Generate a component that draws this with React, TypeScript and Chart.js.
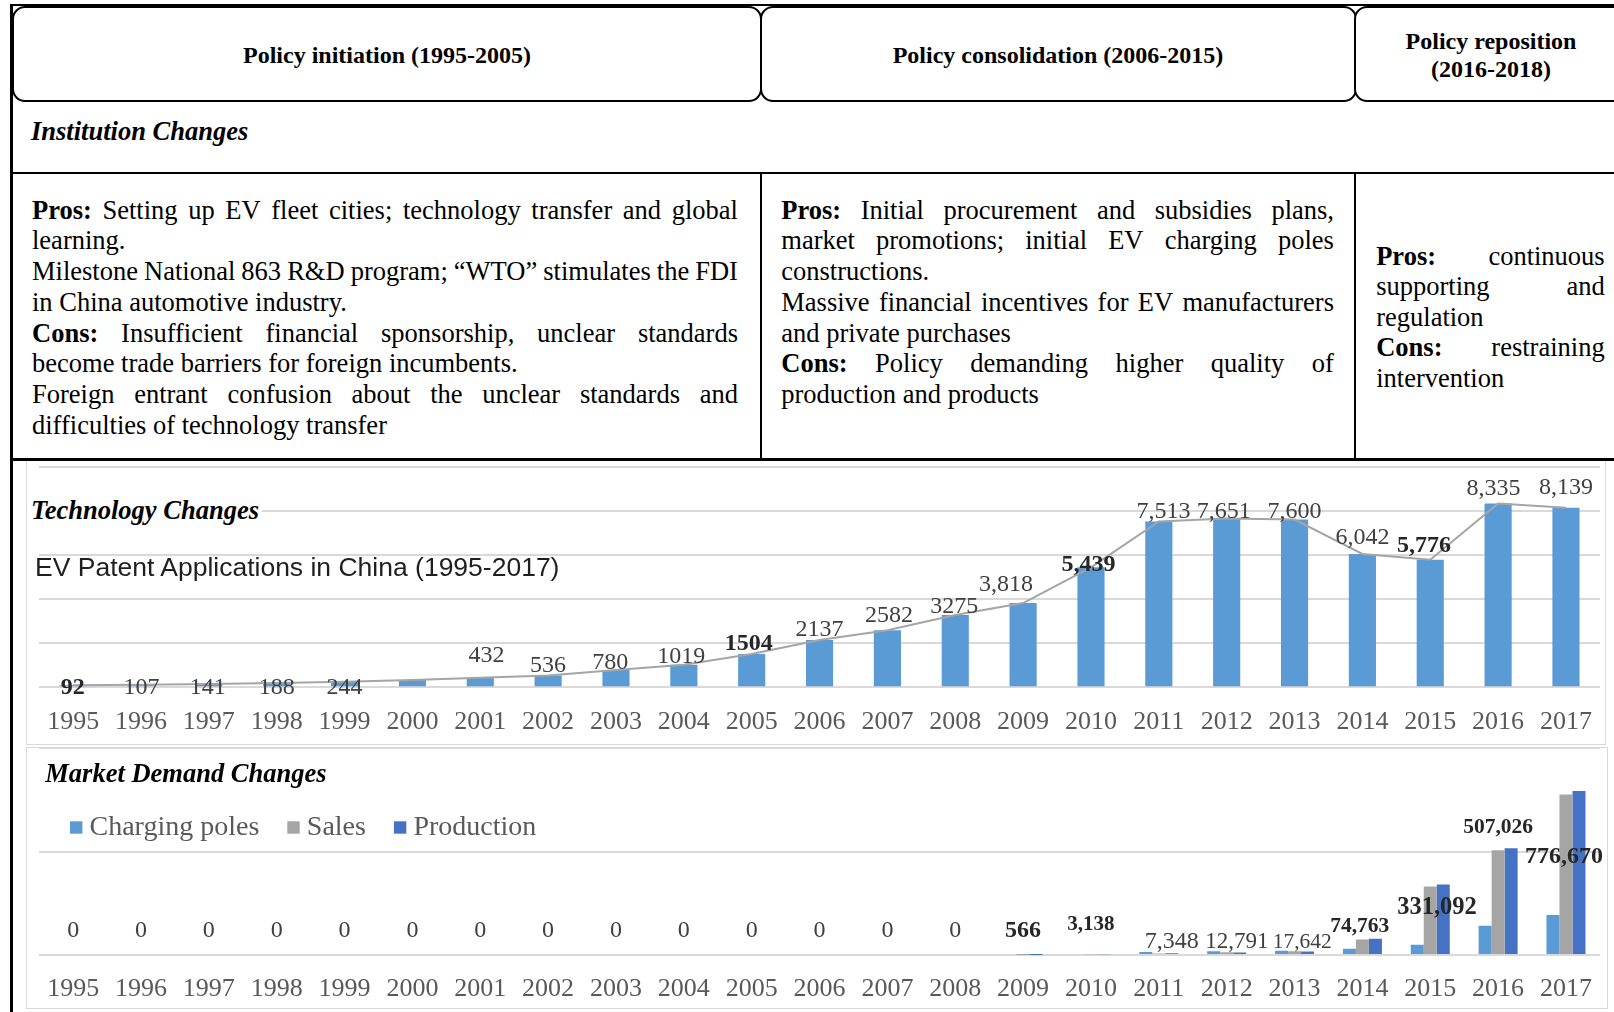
import React, { useEffect, useRef } from 'react';
import { Chart, registerables } from 'chart.js';

Chart.register(...registerables);

const SERIF = "'Liberation Serif', 'Times New Roman', Times, serif";
const SANS = "'Liberation Sans', Arial, Helvetica, sans-serif";

// ---------- data ----------
const years = ['1995', '1996', '1997', '1998', '1999', '2000', '2001', '2002', '2003', '2004', '2005', '2006',
  '2007', '2008', '2009', '2010', '2011', '2012', '2013', '2014', '2015', '2016', '2017'];

const patentApplications = [92, 107, 141, 188, 244, 330, 432, 536, 780, 1019, 1504, 2137,
  2582, 3275, 3818, 5439, 7513, 7651, 7600, 6042, 5776, 8335, 8139];

const patentLabels = ['92', '107', '141', '188', '244', '', '432', '536', '780', '1019', '1504', '2137',
  '2582', '3275', '3,818', '5,439', '7,513', '7,651', '7,600', '6,042', '5,776', '8,335', '8,139'];

const chargingPoles = [0, 0, 0, 0, 0, 0, 0, 0, 0, 0, 0, 0, 0, 0, 0, 5000, 14000, 18000, 21000, 30000, 49000, 141000, 194000];
const sales = [0, 0, 0, 0, 0, 0, 0, 0, 0, 0, 0, 0, 0, 0, 566, 3138, 7348, 12791, 17642, 74763, 331092, 507026, 776670];
const production = [0, 0, 0, 0, 0, 0, 0, 0, 0, 0, 0, 0, 0, 0, 600, 3200, 8368, 12552, 17533, 78499, 340471, 517000, 794000];

const periodTitles = ['Policy initiation (1995-2005)', 'Policy consolidation (2006-2015)', 'Policy reposition\n(2016-2018)'];

const initiationLines = [
  { text: 'Pros: Setting up EV fleet cities; technology transfer and global', justify: true },
  { text: 'learning.', justify: false },
  { text: 'Milestone National 863 R&D program; \u201CWTO\u201D stimulates the FDI', justify: true },
  { text: 'in China automotive industry.', justify: false },
  { text: 'Cons: Insufficient financial sponsorship, unclear standards', justify: true },
  { text: 'become trade barriers for foreign incumbents.', justify: false },
  { text: 'Foreign entrant confusion about the unclear standards and', justify: true },
  { text: 'difficulties of technology transfer', justify: false },
];
const consolidationLines = [
  { text: 'Pros: Initial procurement and subsidies plans,', justify: true },
  { text: 'market promotions; initial EV charging poles', justify: true },
  { text: 'constructions.', justify: false },
  { text: 'Massive financial incentives for EV manufacturers', justify: true },
  { text: 'and private purchases', justify: false },
  { text: 'Cons: Policy demanding higher quality of', justify: true },
  { text: 'production and products', justify: false },
];
const repositionLines = [
  { text: 'Pros: continuous', justify: true },
  { text: 'supporting and', justify: true },
  { text: 'regulation', justify: false },
  { text: 'Cons: restraining', justify: true },
  { text: 'intervention', justify: false },
];

// ---------- label styling (offsets in px: [dx, rise above bar top]) ----------
const techLabelNudge = [[-0.5, -2.4], [0.5, -3], [-1, -3.5], [0, -4.5], [0, -5.8], [0, 0], [6.2, 22], [0, 10],
  [-5.7, 7], [-2.6, 8], [-3, 10.5], [0, 10], [1.5, 14.6], [-1, 8.6], [-17, 18], [-2.6, 2], [4.6, 10], [-3, 7],
  [0, 8], [0, 16.5], [-6.2, 14], [-4.6, 15], [0, 19.6]];
const techBold = [0, 10, 15, 20];

// market labels: [dx, rise above axis, fontSize, bold]
const marketLabelStyle = years.map((_, i) => (i < 14 ? [0, 24.5, 24, 0] : [0, 0, 24, 0]));
marketLabelStyle[14] = [0, 24.5, 24, 1];
marketLabelStyle[15] = [0, 30.7, 21, 1];
marketLabelStyle[16] = [12.9, 13.2, 24, 0];
marketLabelStyle[17] = [10.3, 13.2, 23, 0];
marketLabelStyle[18] = [7.7, 12.2, 21.5, 0];
marketLabelStyle[19] = [-2.6, 28.7, 21.5, 1];
marketLabelStyle[20] = [6.7, 47.2, 24.5, 1];
marketLabelStyle[21] = [0, 127.5, 21.5, 1];
marketLabelStyle[22] = [-2, 98.7, 24, 1];

const GRID = '#D9D9D9';

const techLabelPlugin = {
  id: 'techLabels',
  afterDatasetsDraw(chart: any) {
    const meta = chart.getDatasetMeta(1);
    const ctx = chart.ctx;
    ctx.save();
    ctx.textAlign = 'center';
    ctx.textBaseline = 'middle';
    meta.data.forEach((bar: any, i: number) => {
      const txt = patentLabels[i];
      if (!txt) return;
      const [dx, rise] = techLabelNudge[i];
      const bold = techBold.includes(i);
      ctx.font = `${bold ? 'bold ' : ''}24px ${SERIF}`;
      ctx.fillStyle = bold ? '#262626' : '#404040';
      ctx.fillText(txt, bar.x + dx, bar.y - rise);
    });
    ctx.restore();
  },
};

const marketPlugin = {
  id: 'marketExtras',
  afterDatasetsDraw(chart: any) {
    const ctx = chart.ctx;
    const xs = chart.scales.x;
    const axisY = chart.scales.y.getPixelForValue(0);
    ctx.save();
    ctx.textAlign = 'center';
    ctx.textBaseline = 'middle';
    sales.forEach((v, i) => {
      const [dx, rise, size, bold] = marketLabelStyle[i];
      ctx.font = `${bold ? 'bold ' : ''}${size}px ${SERIF}`;
      ctx.fillStyle = bold ? '#262626' : '#404040';
      ctx.fillText(v.toLocaleString('en-US'), xs.getPixelForValue(i) + dx, axisY - rise);
    });
    // legend
    let x = 44;
    const cy = 81.5;
    ctx.textAlign = 'left';
    ctx.font = `28px ${SERIF}`;
    chart.data.datasets.forEach((ds: any) => {
      ctx.fillStyle = ds.backgroundColor;
      ctx.fillRect(x, cy - 6.2, 12.4, 12.4);
      x += 19.5;
      ctx.fillStyle = '#595959';
      ctx.fillText(ds.label, x, cy);
      x += ctx.measureText(ds.label).width + 28;
    });
    ctx.restore();
  },
};

function TextLine({ text, justify, left, width, top, lh, size }: any) {
  const words = text.split(' ');
  const isBold = (w: string) => w === 'Pros:' || w === 'Cons:';
  const base: any = { position: 'absolute', left, top, width, height: lh, lineHeight: lh + 'px', fontSize: size, whiteSpace: 'pre' };
  if (justify) {
    return (
      <div style={{ ...base, display: 'flex', justifyContent: 'space-between', columnGap: 3 }}>
        {words.map((w: string, k: number) => <span key={k} style={{ fontWeight: isBold(w) ? 700 : 400 }}>{w}</span>)}
      </div>
    );
  }
  return (
    <div style={base}>
      {words.map((w: string, k: number) => <span key={k} style={{ fontWeight: isBold(w) ? 700 : 400 }}>{(k ? ' ' : '') + w}</span>)}
    </div>
  );
}

function Rect({ l, t, w, h, c = '#000' }: any) {
  return <div style={{ position: 'absolute', left: l, top: t, width: w, height: h, background: c }} />;
}

const fitX = (height: number) => (s: any) => {
  s.height = height;
  s.paddingLeft = 0;
  s.paddingRight = 0;
};

export default function App() {
  const techRef = useRef<HTMLCanvasElement>(null);
  const marketRef = useRef<HTMLCanvasElement>(null);

  useEffect(() => {
    const tech = new Chart(techRef.current as HTMLCanvasElement, {
      type: 'bar',
      data: {
        labels: years,
        datasets: [
          { type: 'line', label: 'Trend', data: patentApplications, borderColor: '#A5A5A5', borderWidth: 2, pointRadius: 0, tension: 0, order: 0 } as any,
          { type: 'bar', label: 'EV patent applications', data: patentApplications, backgroundColor: '#5B9BD5', barPercentage: 0.4, categoryPercentage: 1, order: 1 },
        ],
      },
      options: {
        responsive: false,
        animation: false,
        layout: { padding: { left: 13.2, right: 8.1, top: 5.7, bottom: 0 } },
        plugins: { legend: { display: false }, tooltip: { enabled: false } },
        scales: {
          x: {
            offset: true,
            grid: { display: false, drawTicks: false },
            border: { display: false },
            ticks: { color: '#595959', font: { family: SERIF, size: 26 }, padding: 19.7, autoSkip: false, maxRotation: 0 },
            afterFit: fitX(58.8),
          },
          y: {
            min: 0, max: 10000,
            ticks: { stepSize: 2000, display: false },
            grid: { color: GRID, lineWidth: 2, drawTicks: false },
            border: { display: false },
            afterFit: (s: any) => { s.width = 0; },
          },
        },
      } as any,
      plugins: [techLabelPlugin],
    });

    const market = new Chart(marketRef.current as HTMLCanvasElement, {
      type: 'bar',
      data: {
        labels: years,
        datasets: [
          { label: 'Charging poles', data: chargingPoles, backgroundColor: '#5B9BD5', barPercentage: 1, categoryPercentage: 0.575 },
          { label: 'Sales', data: sales, backgroundColor: '#A5A5A5', barPercentage: 1, categoryPercentage: 0.575 },
          { label: 'Production', data: production, backgroundColor: '#4472C4', barPercentage: 1, categoryPercentage: 0.575 },
        ],
      },
      options: {
        responsive: false,
        animation: false,
        layout: { padding: { left: 13.2, right: 8.1, top: 2.3, bottom: 0 } },
        plugins: { legend: { display: false }, tooltip: { enabled: false } },
        scales: {
          x: {
            offset: true,
            grid: { display: false, drawTicks: false },
            border: { display: false },
            ticks: { color: '#595959', font: { family: SERIF, size: 26 }, padding: 18.4, autoSkip: false, maxRotation: 0 },
            afterFit: fitX(57),
          },
          y: {
            min: 0, max: 1000000,
            ticks: { stepSize: 500000, display: false },
            grid: { color: GRID, lineWidth: 2, drawTicks: false },
            border: { display: false },
            afterFit: (s: any) => { s.width = 0; },
          },
        },
      } as any,
      plugins: [marketPlugin],
    });

    return () => { tech.destroy(); market.destroy(); };
  }, []);

  const LH = 30.75;
  const size = 26.5;
  const boxBase: any = {
    position: 'absolute', top: 5.5, height: 96.5, border: '2.5px solid #000', borderRadius: 13, boxSizing: 'border-box',
    display: 'flex', alignItems: 'center', justifyContent: 'center', textAlign: 'center', fontWeight: 700,
    fontSize: 24, lineHeight: '27.8px', whiteSpace: 'pre-line', background: '#fff', paddingTop: 4,
  };

  return (
    <div style={{ position: 'absolute', left: 0, top: 0, width: 1614, height: 1012, background: '#fff', overflow: 'hidden', fontFamily: SERIF, color: '#000' }}>
      {/* chart frames */}
      <div style={{ position: 'absolute', left: 26, top: 459, width: 1580, height: 286, border: `1.5px solid ${GRID}`, boxSizing: 'border-box' }} />
      <div style={{ position: 'absolute', left: 26, top: 746.5, width: 1582, height: 262, border: `1.5px solid ${GRID}`, boxSizing: 'border-box' }} />

      <canvas ref={techRef} width={1582} height={285} style={{ position: 'absolute', left: 26, top: 461, width: 1582, height: 285 }} />
      <canvas ref={marketRef} width={1582} height={266} style={{ position: 'absolute', left: 26, top: 746, width: 1582, height: 266 }} />

      {/* outer frame and table lines */}
      <Rect l={9.5} t={4} w={1605} h={2} />
      <Rect l={9.5} t={4} w={3} h={1008} />
      <Rect l={10} t={171.5} w={1604} h={2.5} />
      <Rect l={10} t={457.5} w={1604} h={3} />
      <Rect l={759.5} t={172} w={2.5} h={288} />
      <Rect l={1353.8} t={172} w={2.5} h={288} />

      {/* header boxes */}
      <div style={{ ...boxBase, left: 12, width: 750 }}>{periodTitles[0]}</div>
      <div style={{ ...boxBase, left: 759.5, width: 597 }}>{periodTitles[1]}</div>
      <div style={{ ...boxBase, left: 1354, width: 274 }}>{periodTitles[2]}</div>

      {/* section titles */}
      <div style={{ position: 'absolute', left: 31, top: 116.2, fontSize: 26.5, lineHeight: '31px', fontWeight: 700, fontStyle: 'italic', whiteSpace: 'nowrap' }}>Institution Changes</div>
      <div style={{ position: 'absolute', left: 31, top: 494.5, fontSize: 26.5, lineHeight: '31px', fontWeight: 700, fontStyle: 'italic', whiteSpace: 'nowrap', background: '#fff', paddingRight: 3 }}>Technology Changes</div>
      <div style={{ position: 'absolute', left: 35, top: 552, fontSize: 26.5, lineHeight: '31px', fontFamily: SANS, color: '#1F1F1F', whiteSpace: 'nowrap' }}>EV Patent Applications in China (1995-2017)</div>
      <div style={{ position: 'absolute', left: 45.3, top: 758, fontSize: 26.5, lineHeight: '31px', fontWeight: 700, fontStyle: 'italic', whiteSpace: 'nowrap' }}>Market Demand Changes</div>

      {/* cell texts */}
      {initiationLines.map((ln, i) => (
        <TextLine key={'a' + i} {...ln} left={32} width={706} top={210 + i * LH - LH / 2} lh={LH} size={size} />
      ))}
      {consolidationLines.map((ln, i) => (
        <TextLine key={'b' + i} {...ln} left={781.3} width={552.7} top={210 + i * LH - LH / 2} lh={LH} size={size} />
      ))}
      {repositionLines.map((ln, i) => (
        <TextLine key={'c' + i} {...ln} left={1376.2} width={228.5} top={256 + i * 30.6 - LH / 2} lh={LH} size={size} />
      ))}
    </div>
  );
}
